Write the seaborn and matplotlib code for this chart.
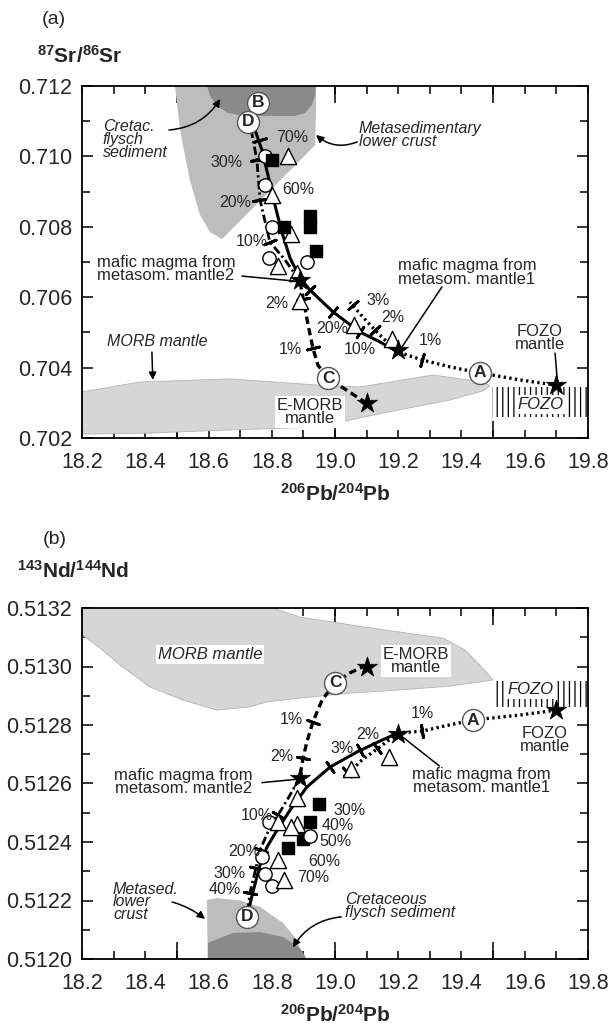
import numpy as np
import matplotlib
matplotlib.use("Agg")
import matplotlib.pyplot as plt
import seaborn as sns
from matplotlib.ticker import FixedLocator, MultipleLocator, FuncFormatter

sns.set_style("ticks")
plt.rcParams["font.family"] = ["Liberation Sans", "DejaVu Sans"]
plt.rcParams["mathtext.fontset"] = "custom"
plt.rcParams["mathtext.rm"] = "Liberation Sans"
plt.rcParams["mathtext.bf"] = "Liberation Sans:bold"
plt.rcParams["mathtext.it"] = "Liberation Sans:italic"
plt.rcParams["hatch.linewidth"] = 0.9
plt.rcParams["lines.dash_capstyle"] = "butt"

INK = "#262626"
LIGHT = "#bdbdbd"
PALE = "#d6d6d6"
DARK = "#8a8a8a"

# ---------------- (a) 87Sr/86Sr vs 206Pb/204Pb ----------------
a_circle_pb = [18.78, 18.78, 18.80, 18.79, 18.91]
a_circle_sr = [0.7100, 0.7092, 0.7080, 0.7071, 0.7070]
a_tri_pb = [18.85, 18.80, 18.86, 18.82, 18.88, 18.89, 19.06, 19.18]
a_tri_sr = [0.7100, 0.7089, 0.7078, 0.7069, 0.7067, 0.7059, 0.7052, 0.7048]
a_sq_pb = [18.80, 18.92, 18.92, 18.94, 18.84]
a_sq_sr = [0.7099, 0.7083, 0.7080, 0.7073, 0.7080]

a_star_pb = [19.70, 19.20, 18.89, 19.10]      # FOZO, mantle1, mantle2, E-MORB
a_star_sr = [0.7035, 0.7045, 0.7065, 0.7030]

a_fozoA_pb = [19.70, 19.585, 19.458, 19.364, 19.275, 19.20]
a_fozoA_sr = [0.70350, 0.70365, 0.70385, 0.70402, 0.70422, 0.70444]
a_fozoD_pb = [19.20, 19.164, 19.126, 19.085, 19.047]
a_fozoD_sr = [0.70444, 0.70473, 0.70507, 0.70547, 0.70586]
a_m1_pb = [19.20, 19.142, 19.079, 18.994, 18.921, 18.889, 18.858, 18.832,
           18.810, 18.788, 18.769, 18.747, 18.725]
a_m1_sr = [0.70444, 0.70473, 0.70501, 0.70558, 0.70620, 0.70655, 0.70711, 0.70785,
           0.70862, 0.70947, 0.71018, 0.71075, 0.71098]
a_m2_pb = [18.889, 18.842, 18.794, 18.763, 18.753, 18.738, 18.725]
a_m2_sr = [0.70646, 0.70706, 0.70757, 0.70876, 0.70990, 0.71061, 0.71098]
a_emorb_pb = [19.10, 18.978, 18.946, 18.930, 18.915, 18.902, 18.889]
a_emorb_sr = [0.70299, 0.70370, 0.70407, 0.70456, 0.70521, 0.70583, 0.70646]

a_crust_pb = [18.494, 18.510, 18.541, 18.573, 18.605, 18.643, 18.937, 18.940, 18.940]
a_crust_sr = [0.71200, 0.71075, 0.70933, 0.70834, 0.70785, 0.70765, 0.71032, 0.71132, 0.71200]
a_flysch_pb = [18.595, 18.605, 18.627, 18.662, 18.715, 18.874, 18.905, 18.927, 18.937, 18.940]
a_flysch_sr = [0.71200, 0.71172, 0.71143, 0.71123, 0.71115, 0.71115, 0.71123, 0.71146, 0.71174, 0.71200]
a_morb_pb = [18.2, 18.383, 18.668, 18.953, 19.079, 19.310, 19.468, 19.490,
             19.468, 19.364, 19.152, 18.943, 18.668, 18.415, 18.2]
a_morb_sr = [0.70331, 0.70359, 0.70368, 0.70350, 0.70345, 0.70379, 0.70359, 0.70348,
             0.70334, 0.70308, 0.70271, 0.70231, 0.70223, 0.70214, 0.70211]
a_fozo_pb = [19.496, 19.8]
a_fozo_sr = [0.70260, 0.70345]

# ---------------- (b) 143Nd/144Nd vs 206Pb/204Pb ----------------
b_circle_pb = [18.79, 18.92, 18.77, 18.78, 18.80]
b_circle_nd = [0.51247, 0.51242, 0.51235, 0.51229, 0.51225]
b_tri_pb = [18.88, 18.82, 18.88, 18.86, 18.82, 18.84, 19.05, 19.17]
b_tri_nd = [0.51255, 0.51247, 0.51246, 0.51245, 0.51234, 0.51227, 0.51265, 0.51269]
b_sq_pb = [18.95, 18.92, 18.85, 18.90]
b_sq_nd = [0.51253, 0.51247, 0.51238, 0.51241]

b_star_pb = [19.70, 19.20, 18.89, 19.10]
b_star_nd = [0.51285, 0.51277, 0.51262, 0.51300]

b_fozoA_pb = [19.70, 19.585, 19.436, 19.348, 19.275, 19.20]
b_fozoA_nd = [0.512851, 0.512834, 0.512817, 0.512797, 0.512779, 0.512773]
b_fozoD_pb = [19.20, 19.142, 19.085, 19.025]
b_fozoD_nd = [0.512773, 0.512725, 0.512680, 0.512619]
b_m1_pb = [19.20, 19.136, 19.070, 18.984, 18.911, 18.858, 18.817, 18.785,
           18.763, 18.738, 18.722]
b_m1_nd = [0.512773, 0.512742, 0.512708, 0.512656, 0.512588, 0.512509, 0.512441,
           0.512383, 0.512321, 0.512219, 0.512144]
b_m2_pb = [18.889, 18.858, 18.826, 18.788, 18.763, 18.750, 18.731, 18.722]
b_m2_nd = [0.512622, 0.512561, 0.512503, 0.512434, 0.512373, 0.512311, 0.512226, 0.512144]
b_emorb_pb = [19.10, 19.047, 19.000, 18.959, 18.930, 18.911, 18.899, 18.889]
b_emorb_nd = [0.513005, 0.512978, 0.512944, 0.512885, 0.512810, 0.512742, 0.512687, 0.512622]

b_morb_pb = [18.2, 18.804, 18.889, 19.111, 19.342, 19.411, 19.458, 19.500, 19.364,
             19.206, 19.047, 18.889, 18.785, 18.731, 18.627, 18.519, 18.415, 18.320,
             18.257, 18.2]
b_morb_nd = [0.51320, 0.51320, 0.513169, 0.513132, 0.513097, 0.513056, 0.513005,
             0.512954, 0.512933, 0.512920, 0.512909, 0.512892, 0.512879, 0.512862,
             0.512851, 0.512885, 0.512930, 0.513005, 0.513063, 0.513108]
b_crust_pb = [18.598, 18.595, 18.627, 18.700, 18.763, 18.836, 18.880, 18.899]
b_crust_nd = [0.51200, 0.512202, 0.512208, 0.512200, 0.512178, 0.512123, 0.512065, 0.51200]
b_flysch_pb = [18.598, 18.598, 18.677, 18.763, 18.836, 18.889, 18.911]
b_flysch_nd = [0.51200, 0.512055, 0.512089, 0.512092, 0.512075, 0.512038, 0.51200]
b_fozo_pb = [19.5, 19.8]
b_fozo_nd = [0.51286, 0.51295]

x_ticks = np.round(np.arange(18.2, 19.8001, 0.1), 1)


def style_axes(ax, ylo, yhi, ystep, fmt):
    ax.set_xlim(18.2, 19.8)
    ax.set_ylim(ylo, yhi)
    ax.xaxis.set_major_locator(FixedLocator(x_ticks))
    ax.set_xticklabels([f"{v:.1f}" if round(v * 10) % 2 == 0 else "" for v in x_ticks])
    ax.xaxis.set_minor_locator(FixedLocator([18.5, 19.0, 19.5]))
    ax.xaxis.remove_overlapping_locs = False
    ax.yaxis.set_major_locator(MultipleLocator(2 * ystep))
    ax.yaxis.set_minor_locator(MultipleLocator(ystep))
    ax.yaxis.set_major_formatter(FuncFormatter(lambda v, p: fmt % v))
    ax.tick_params(axis="both", which="both", direction="in", top=True, right=True,
                   width=1.1, color="black", labelcolor=INK, labelsize=15.5)
    ax.tick_params(axis="x", which="major", length=6, pad=10)
    ax.tick_params(axis="x", which="minor", length=12)
    ax.tick_params(axis="y", which="major", length=8, pad=7)
    ax.tick_params(axis="y", which="minor", length=5.5)
    for sp in ax.spines.values():
        sp.set_linewidth(1.3)
        sp.set_color("black")


def samples(ax, xs, ys, marker, size, fill):
    sns.scatterplot(x=xs, y=ys, marker=marker, s=size, color=fill, edgecolor="black",
                    linewidth=1.0, ax=ax, zorder=5, legend=False)


def curve(ax, xs, ys, ls, lw=2.2):
    sns.lineplot(x=xs, y=ys, sort=False, estimator=None, color="black", linewidth=lw,
                 linestyle=ls, ax=ax, zorder=3, legend=False)


def cross_ticks(ax, xs, ys, tx, ty):
    pts = ax.transData.transform(np.column_stack([xs, ys]))
    for x, y in zip(tx, ty):
        p = ax.transData.transform((x, y))
        i = int(np.argmin(np.hypot(*(pts - p).T)))
        j0, j1 = max(i - 1, 0), min(i + 1, len(pts) - 1)
        v = pts[j1] - pts[j0]
        ang = np.degrees(np.arctan2(v[1], v[0]))
        ax.scatter([x], [y], marker=(2, 2, ang), s=80, color="black",
                   linewidths=2.0, zorder=4)


def letter(ax, x, y, s):
    ax.scatter([x], [y], s=250, color="white", edgecolor="#555555", linewidths=1.0, zorder=7)
    ax.text(x, y, s, ha="center", va="center", fontsize=12.5, fontweight="bold",
            color=INK, zorder=8)


def note(ax, x, y, s, **kw):
    kw.setdefault("fontsize", 12)
    kw.setdefault("color", INK)
    kw.setdefault("ha", "center")
    kw.setdefault("va", "center")
    ax.text(x, y, s, zorder=8, **kw)


def pointer(ax, tail, head, rad=0.0, head_style="-|>"):
    ax.annotate("", xy=head, xytext=tail, zorder=8,
                arrowprops=dict(arrowstyle=head_style, color="black", lw=1.1,
                                mutation_scale=11, shrinkA=0, shrinkB=0,
                                connectionstyle=f"arc3,rad={rad}"))


WHITE_BOX = dict(boxstyle="square,pad=0.12", fc="white", ec="none")
DOTS = (0, (0.7, 1.0))
DASHES = (0, (2.2, 1.3))
DASHDOT = (0, (3.0, 1.2, 0.8, 1.2))

fig = plt.figure(figsize=(6.13, 10.26), dpi=100)
ax_a = fig.add_axes([82 / 613, 1 - 438 / 1026, 506 / 613, 352 / 1026])
ax_b = fig.add_axes([82 / 613, 1 - 959 / 1026, 506 / 613, 351 / 1026])

# ======================= panel (a) =======================
ax = ax_a
style_axes(ax, 0.702, 0.712, 0.001, "%.3f")
ax.fill(a_crust_pb, a_crust_sr, color=LIGHT, lw=0, zorder=1)
ax.fill(a_flysch_pb, a_flysch_sr, color=DARK, lw=0, zorder=1.1)
ax.fill(a_morb_pb, a_morb_sr, color=PALE, ec="#b5b5b5", lw=0.6, zorder=1)
ax.fill_between(a_fozo_pb, a_fozo_sr[0], a_fozo_sr[1], facecolor="white",
                edgecolor="black", hatch="|||", linewidth=0, zorder=1)

curve(ax, a_fozoA_pb, a_fozoA_sr, DOTS, lw=2.4)
curve(ax, a_fozoD_pb, a_fozoD_sr, DOTS, lw=2.4)
curve(ax, a_m1_pb, a_m1_sr, "-", lw=2.2)
curve(ax, a_m2_pb, a_m2_sr, DASHDOT, lw=2.0)
curve(ax, a_emorb_pb, a_emorb_sr, DASHES, lw=2.4)

cross_ticks(ax, a_fozoA_pb, a_fozoA_sr, [19.275], [0.70422])
cross_ticks(ax, a_fozoD_pb, a_fozoD_sr, [19.126, 19.057], [0.70507, 0.70578])
cross_ticks(ax, a_m1_pb, a_m1_sr, [19.079, 18.994, 18.921, 18.763], [0.70501, 0.70558, 0.70620, 0.71047])
cross_ticks(ax, a_m2_pb, a_m2_sr, [18.794, 18.760, 18.753], [0.70757, 0.70876, 0.70990])
cross_ticks(ax, a_emorb_pb, a_emorb_sr, [18.930, 18.899], [0.70456, 0.70595])

samples(ax, a_circle_pb, a_circle_sr, "o", 92, "white")
samples(ax, a_tri_pb, a_tri_sr, "^", 135, "white")
samples(ax, a_sq_pb, a_sq_sr, "s", 85, "black")
sns.scatterplot(x=a_star_pb, y=a_star_sr, marker="*", s=230, color="black",
                edgecolor="black", linewidth=0.5, ax=ax, zorder=6, legend=False)

letter(ax, 18.757, 0.71152, "B")
letter(ax, 18.725, 0.71098, "D")
letter(ax, 18.978, 0.70370, "C")
letter(ax, 19.458, 0.70385, "A")

for s, x, y in [("70%", 18.864, 0.71055), ("30%", 18.658, 0.70984), ("60%", 18.883, 0.70905),
                ("20%", 18.684, 0.70870), ("10%", 18.738, 0.70757), ("2%", 18.817, 0.70583),
                ("1%", 18.858, 0.70450), ("20%", 18.991, 0.70512), ("10%", 19.079, 0.70450),
                ("3%", 19.136, 0.70592), ("2%", 19.183, 0.70541), ("1%", 19.300, 0.70478)]:
    note(ax, x, y, s, fontsize=11.5)

note(ax, 18.266, 0.71048, "Cretac.\nflysch\nsediment", ha="left", style="italic",
     fontsize=11.5, linespacing=0.8)
pointer(ax, (18.475, 0.71075), (18.637, 0.71163), rad=0.25)
note(ax, 19.075, 0.71061, "Metasedimentary\nlower crust", ha="left", style="italic",
     fontsize=11.5, linespacing=0.85)
pointer(ax, (19.070, 0.71041), (18.940, 0.71061), rad=-0.3)
note(ax, 18.247, 0.70681, "mafic magma from\nmetasom. mantle2", ha="left", linespacing=0.85)
pointer(ax, (18.706, 0.70660), (18.870, 0.70646), head_style="-")
note(ax, 19.417, 0.70670, "mafic magma from\nmetasom. mantle1", linespacing=0.85)
pointer(ax, (19.338, 0.70629), (19.212, 0.70459), head_style="-")
note(ax, 19.648, 0.70484, "FOZO\nmantle", linespacing=0.85)
pointer(ax, (19.696, 0.70441), (19.703, 0.70362), head_style="-")
note(ax, 18.921, 0.70274, "E-MORB\nmantle", linespacing=0.85, bbox=WHITE_BOX)
note(ax, 18.437, 0.70473, "MORB mantle", style="italic", fontsize=11.5)
pointer(ax, (18.421, 0.70444), (18.424, 0.70365))
note(ax, 19.651, 0.70294, "FOZO", style="italic", fontsize=12, bbox=WHITE_BOX)

ax.set_xlabel(r"$\mathbf{{}^{206}Pb/{}^{204}Pb}$", fontsize=15, color=INK, va="center")
ax.xaxis.set_label_coords(0.5, -0.16)
ax.set_ylabel(r"$\mathbf{{}^{87}Sr/{}^{86}Sr}$", fontsize=15, color=INK, rotation=0,
              ha="left", va="center")
ax.yaxis.set_label_coords(-0.089, 1.085)

# ======================= panel (b) =======================
ax = ax_b
style_axes(ax, 0.5120, 0.5132, 0.0001, "%.4f")
ax.fill(b_morb_pb, b_morb_nd, color=PALE, ec="#b5b5b5", lw=0.6, zorder=1)
ax.fill(b_crust_pb, b_crust_nd, color=LIGHT, lw=0, zorder=1)
ax.fill(b_flysch_pb, b_flysch_nd, color=DARK, lw=0, zorder=1.1)
ax.fill_between(b_fozo_pb, b_fozo_nd[0], b_fozo_nd[1], facecolor="white",
                edgecolor="black", hatch="|||", linewidth=0, zorder=1)

curve(ax, b_fozoA_pb, b_fozoA_nd, DOTS, lw=2.4)
curve(ax, b_fozoD_pb, b_fozoD_nd, DOTS, lw=2.4)
curve(ax, b_m1_pb, b_m1_nd, "-", lw=2.2)
curve(ax, b_m2_pb, b_m2_nd, DASHDOT, lw=2.0)
curve(ax, b_emorb_pb, b_emorb_nd, DASHES, lw=2.4)

cross_ticks(ax, b_fozoA_pb, b_fozoA_nd, [19.275], [0.512779])
cross_ticks(ax, b_fozoD_pb, b_fozoD_nd, [19.133, 19.038], [0.512721, 0.512639])
cross_ticks(ax, b_m1_pb, b_m1_nd, [19.079, 18.984], [0.512714, 0.512656])
cross_ticks(ax, b_m2_pb, b_m2_nd, [18.820, 18.765, 18.750, 18.731],
            [0.512492, 0.512373, 0.512311, 0.512226])
cross_ticks(ax, b_emorb_pb, b_emorb_nd, [18.930, 18.899], [0.512810, 0.512687])

samples(ax, b_sq_pb, b_sq_nd, "s", 85, "black")
samples(ax, b_circle_pb, b_circle_nd, "o", 92, "white")
samples(ax, b_tri_pb, b_tri_nd, "^", 135, "white")
sns.scatterplot(x=b_star_pb, y=b_star_nd, marker="*", s=230, color="black",
                edgecolor="black", linewidth=0.5, ax=ax, zorder=6, legend=False)

letter(ax, 19.000, 0.512944, "C")
letter(ax, 19.436, 0.512817, "A")
letter(ax, 18.722, 0.512144, "D")

for s, x, y in [("1%", 19.275, 0.512838), ("2%", 19.104, 0.512769), ("3%", 19.022, 0.512718),
                ("1%", 18.861, 0.512820), ("2%", 18.832, 0.512694),
                ("30%", 19.047, 0.512509), ("40%", 19.009, 0.512458), ("50%", 19.000, 0.512400),
                ("60%", 18.965, 0.512335), ("70%", 18.930, 0.512277),
                ("10%", 18.753, 0.512489), ("20%", 18.712, 0.512369),
                ("30%", 18.665, 0.512294), ("40%", 18.652, 0.512239)]:
    note(ax, x, y, s, fontsize=11.5)

note(ax, 18.605, 0.513040, "MORB mantle", style="italic", fontsize=12, bbox=WHITE_BOX)
note(ax, 19.256, 0.513019, "E-MORB\nmantle", linespacing=0.85, bbox=WHITE_BOX)
note(ax, 19.617, 0.512920, "FOZO", style="italic", fontsize=12, bbox=WHITE_BOX)
note(ax, 19.664, 0.512749, "FOZO\nmantle", linespacing=0.85)
note(ax, 18.738, 0.512605, "mafic magma from\nmetasom. mantle2", ha="right", linespacing=0.85)
pointer(ax, (18.769, 0.512603), (18.875, 0.512614), head_style="-")
note(ax, 19.462, 0.512608, "mafic magma from\nmetasom. mantle1", linespacing=0.85)
pointer(ax, (19.330, 0.512660), (19.215, 0.512758), head_style="-")
note(ax, 18.298, 0.512195, "Metased.\nlower\ncrust", ha="left", style="italic",
     fontsize=11.5, linespacing=0.8)
pointer(ax, (18.485, 0.512195), (18.589, 0.512137), rad=-0.1)
note(ax, 19.032, 0.512181, "Cretaceous\nflysch sediment", ha="left", style="italic",
     fontsize=11.5, linespacing=0.85)
pointer(ax, (19.020, 0.512144), (18.867, 0.512040), rad=0.25)

ax.set_xlabel(r"$\mathbf{{}^{206}Pb/{}^{204}Pb}$", fontsize=15, color=INK, va="center")
ax.xaxis.set_label_coords(0.5, -0.16)
ax.set_ylabel(r"$\mathbf{{}^{143}Nd/{}^{144}Nd}$", fontsize=15, color=INK, rotation=0,
              ha="left", va="center")
ax.yaxis.set_label_coords(-0.1285, 1.105)

fig.text(54 / 613, 1 - 20 / 1026, "(a)", fontsize=14, color=INK, ha="center", va="center")
fig.text(55 / 613, 1 - 540 / 1026, "(b)", fontsize=14, color=INK, ha="center", va="center")

fig.savefig("out.png", dpi=100)
